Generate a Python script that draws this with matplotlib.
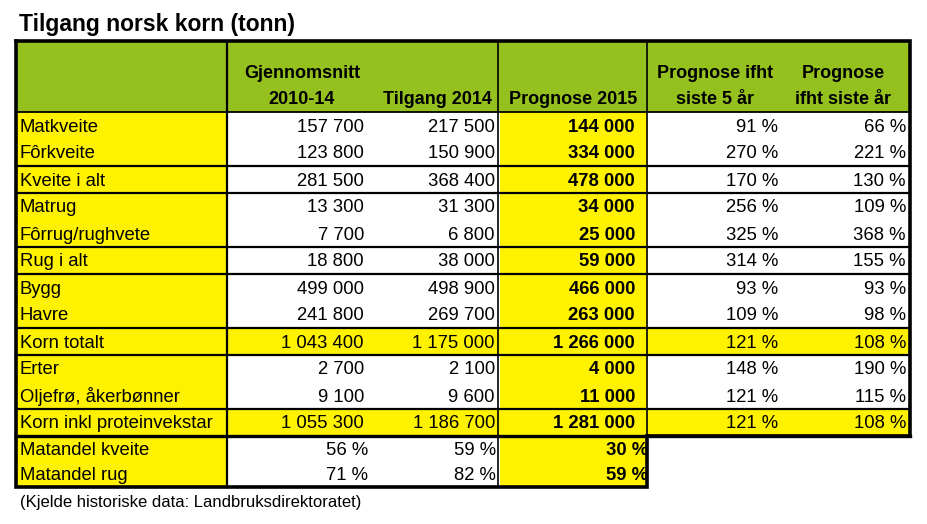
import matplotlib
matplotlib.use("Agg")
import matplotlib.pyplot as plt
from matplotlib.patches import Rectangle

plt.rcParams['font.family'] = ['Liberation Sans', 'DejaVu Sans']

# table data
title = 'Tilgang norsk korn (tonn)'
footnote = '(Kjelde historiske data: Landbruksdirektoratet)'
headers = ['Gjennomsnitt\n2010-14', 'Tilgang 2014', 'Prognose 2015',
           'Prognose ifht\nsiste 5 år', 'Prognose\nifht siste år']
row_labels = ['Matkveite', 'Fôrkveite', 'Kveite i alt', 'Matrug', 'Fôrrug/rughvete',
              'Rug i alt', 'Bygg', 'Havre', 'Korn totalt', 'Erter',
              'Oljefrø, åkerbønner', 'Korn inkl proteinvekstar',
              'Matandel kveite', 'Matandel rug']
avg_2010_14 = [157700, 123800, 281500, 13300, 7700, 18800, 499000, 241800,
               1043400, 2700, 9100, 1055300]
supply_2014 = [217500, 150900, 368400, 31300, 6800, 38000, 498900, 269700,
               1175000, 2100, 9600, 1186700]
forecast_2015 = [144000, 334000, 478000, 34000, 25000, 59000, 466000, 263000,
                 1266000, 4000, 11000, 1281000]
pct_last5 = [91, 270, 170, 256, 325, 314, 93, 109, 121, 148, 121, 121]
pct_last_year = [66, 221, 130, 109, 368, 155, 93, 98, 108, 190, 115, 108]
food_share_avg = [56, 71]
food_share_2014 = [59, 82]
food_share_2015 = [30, 59]

total_rows = [8, 11]              # rows shaded yellow across the table
group_ends = [1, 2, 4, 5, 7, 8, 10]

GREEN = '#95c11f'
YELLOW = '#fff200'


def fmt(v):
    return '{:,}'.format(v).replace(',', ' ')


# layout in pixels
col_x = [16, 227, 375, 500, 647, 780, 910]
top, head_bot = 41, 112
row_h = [27] * 12 + [25.5, 25.5]
row_y = [head_bot]
for h in row_h:
    row_y.append(row_y[-1] + h)

fig = plt.figure(figsize=(9.27, 5.24), dpi=100)
ax = fig.add_axes([0, 0, 1, 1])
ax.set_xlim(0, 927)
ax.set_ylim(524, 0)
ax.axis('off')

ax.text(19, 24, title, fontsize=16.5, fontweight='bold', va='center', ha='left')

# header
ax.add_patch(Rectangle((col_x[0], top), col_x[6] - col_x[0], head_bot - top,
                       color=GREEN, lw=0))
head_cx = [302, 437, 573, 715, 843]
for cx, h in zip(head_cx, headers):
    lines = h.split('\n')
    ys = [99] if len(lines) == 1 else [73, 99]
    for yy, t in zip(ys, lines):
        ax.text(cx, yy, t, fontsize=13, fontweight='bold', ha='center', va='center')

n_main = len(avg_2010_14)
for i, lab in enumerate(row_labels):
    y0, y1 = row_y[i], row_y[i + 1]
    yc = (y0 + y1) / 2 + 1.5
    right = col_x[6] if i < n_main else col_x[4]
    if i in total_rows:
        ax.add_patch(Rectangle((col_x[0], y0), right - col_x[0], y1 - y0, color=YELLOW, lw=0))
    ax.add_patch(Rectangle((col_x[0], y0), col_x[1] - col_x[0], y1 - y0, color=YELLOW, lw=0))
    ax.add_patch(Rectangle((col_x[3], y0), col_x[4] - col_x[3], y1 - y0, color=YELLOW, lw=0))
    ax.text(20, yc, lab, fontsize=13.3, ha='left', va='center')
    if i < n_main:
        vals = [fmt(avg_2010_14[i]), fmt(supply_2014[i]), fmt(forecast_2015[i]),
                '%d %%' % pct_last5[i], '%d %%' % pct_last_year[i]]
        xr = [364, 495, 635, 778, 906]
    else:
        k = i - n_main
        vals = ['%d %%' % food_share_avg[k], '%d %%' % food_share_2014[k],
                '%d %%' % food_share_2015[k]]
        xr = [368, 496, 648]
    for j, (v, x) in enumerate(zip(vals, xr)):
        ax.text(x, yc, v, fontsize=13.3, ha='right', va='center',
                fontweight='bold' if j == 2 else 'normal', clip_on=True)

# grid lines
y_main = row_y[n_main]
y_end = row_y[-1]
ax.plot([col_x[0], col_x[6]], [head_bot, head_bot], color='black', lw=1.3)
for g in group_ends:
    ax.plot([col_x[0], col_x[6]], [row_y[g + 1]] * 2, color='black', lw=1.6)
ax.plot([col_x[0], col_x[6]], [y_main, y_main], color='black', lw=2.4)
ax.plot([col_x[1], col_x[1]], [top, y_end], color='black', lw=1.6)
ax.plot([498, 498], [top, y_end], color='black', lw=1.2)
ax.plot([col_x[4], col_x[4]], [top, y_main], color='black', lw=1.2)
# outer borders
ax.plot([col_x[0], col_x[6], col_x[6], col_x[4]], [top, top, y_main, y_main],
        color='black', lw=2.6, solid_joinstyle='miter')
ax.plot([col_x[0], col_x[0], col_x[4], col_x[4]], [top, y_end, y_end, y_main],
        color='black', lw=2.6, solid_joinstyle='miter')

ax.text(20, 502, footnote, fontsize=12, ha='left', va='center')

fig.savefig('out.png', dpi=100)
